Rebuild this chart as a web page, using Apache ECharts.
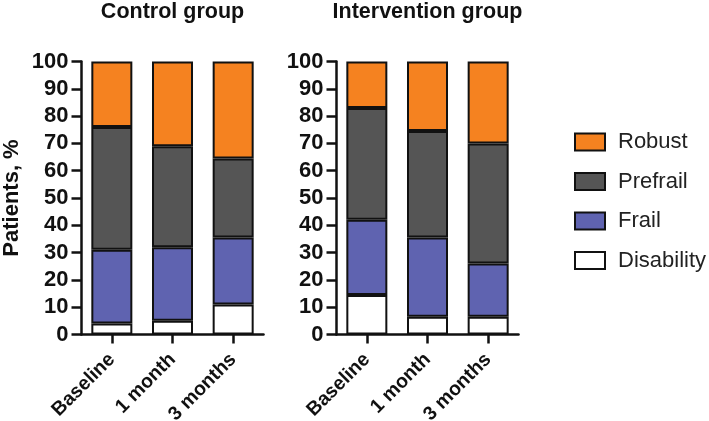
<!DOCTYPE html>
<html>
<head>
<meta charset="utf-8">
<script src="https://cdn.jsdelivr.net/npm/echarts@6/dist/echarts.min.js"></script>
<style>html,body{margin:0;padding:0;background:#fff}#c{width:709px;height:421px}</style>
</head>
<body>
<div id="c"></div>
<script>
const categories = ['Baseline', '1 month', '3 months'];
const groupTitles = ['Control group', 'Intervention group'];
const yTicks = [0, 100, 10];
const legendOrder = ['Robust', 'Prefrail', 'Frail', 'Disability'];

const controlDisability = [4, 5, 11];
const controlFrail = [27, 27, 24.5];
const controlPrefrail = [45, 37, 29];
const controlRobust = [24, 31, 35.5];

const interventionDisability = [14.5, 6.5, 6.5];
const interventionFrail = [27.5, 29, 19.5];
const interventionPrefrail = [41, 39, 44];
const interventionRobust = [17, 25.5, 30];

const colors = { Disability: '#ffffff', Frail: '#5f63b0', Prefrail: '#555555', Robust: '#f58220' };
const FONT = '"Liberation Sans", Arial, sans-serif';

const groups = [
  { Disability: controlDisability, Frail: controlFrail, Prefrail: controlPrefrail, Robust: controlRobust },
  { Disability: interventionDisability, Frail: interventionFrail, Prefrail: interventionPrefrail, Robust: interventionRobust }
];
const stackOrder = ['Disability', 'Frail', 'Prefrail', 'Robust'];

const gridLefts = [81.5, 336.5];
const grids = gridLefts.map(l => ({ left: l, top: 61.5, width: 182, height: 273, containLabel: false, outerBoundsMode: 'none' }));

const axisLine = { show: true, lineStyle: { color: '#111', width: 2.5 } };

const xAxes = gridLefts.map((_, i) => ({
  type: 'category', gridIndex: i, data: categories,
  axisLine: axisLine,
  axisTick: { show: true, alignWithLabel: true, length: 9, lineStyle: { color: '#111', width: 2.5 } },
  axisLabel: { rotate: 45, fontSize: 19.5, fontWeight: 'bold', color: '#111', fontFamily: FONT, margin: 22 }
}));

const yAxes = gridLefts.map((_, i) => ({
  type: 'value', gridIndex: i, min: yTicks[0], max: yTicks[1], interval: yTicks[2],
  axisLine: axisLine,
  axisTick: { show: true, length: 10, lineStyle: { color: '#111', width: 2.5 } },
  splitLine: { show: false },
  axisLabel: { fontSize: 22, fontWeight: 'bold', color: '#111', fontFamily: FONT, margin: 13 },
  name: i === 0 ? 'Patients, %' : '',
  nameLocation: 'middle', nameGap: 59, nameRotate: 90,
  nameTextStyle: { fontSize: 22, fontWeight: 'bold', color: '#111', fontFamily: FONT }
}));

const series = [];
groups.forEach((g, gi) => {
  stackOrder.forEach(name => {
    series.push({
      name: name, type: 'bar', stack: 'g' + gi, xAxisIndex: gi, yAxisIndex: gi,
      data: g[name], barWidth: 41,
      itemStyle: { color: colors[name], borderColor: '#111', borderWidth: 2 }
    });
  });
});

const chart = echarts.init(document.getElementById('c'), null, { renderer: 'canvas' });
chart.setOption({
  animation: false,
  backgroundColor: '#fff',
  grid: grids,
  xAxis: xAxes,
  yAxis: yAxes,
  legend: {
    data: legendOrder, orient: 'vertical', left: 569, top: 126,
    itemWidth: 30, itemHeight: 17, itemGap: 17.5, icon: 'rect',
    textStyle: { fontSize: 22, color: '#222', fontFamily: FONT, padding: [0, 0, 0, 8] },
    selectedMode: false
  },
  graphic: groupTitles.map((t, i) => ({
    type: 'text', x: gridLefts[i] + 91, y: 12,
    style: { text: t, textAlign: 'center', textVerticalAlign: 'middle', fontSize: 21.5, fontWeight: 'bold', fill: '#111', fontFamily: FONT }
  })),
  series: series
});
</script>
</body>
</html>
